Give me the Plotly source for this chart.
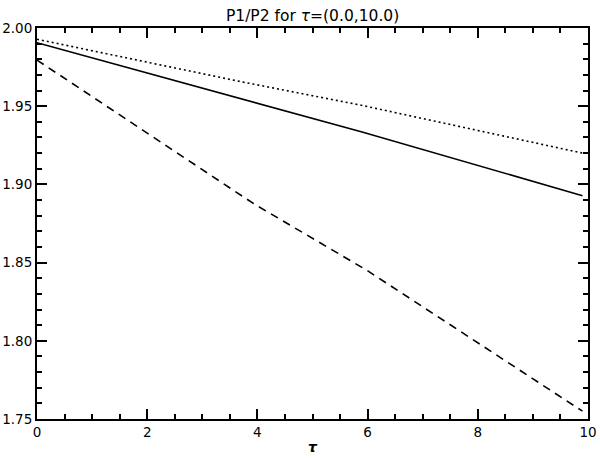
import plotly.graph_objects as go

tau = [0.0, 3.7, 5.9, 9.9]
solid_vals = [1.9906, 1.9550, 1.9335, 1.8928]
dotted_vals = [1.9928, 1.9657, 1.9505, 1.9200]
dashed_tau = [0.0, 3.94, 5.99, 9.9]
dashed_vals = [1.9795, 1.8875, 1.8450, 1.7550]

x_ticks = [0, 2, 4, 6, 8, 10]
y_ticks = [1.75, 1.80, 1.85, 1.90, 1.95, 2.00]
y_tick_labels = ["1.75", "1.80", "1.85", "1.90", "1.95", "2.00"]

fig = go.Figure()
fig.add_trace(go.Scatter(x=tau, y=solid_vals, mode="lines",
                         line=dict(color="black", width=1.6)))
fig.add_trace(go.Scatter(x=tau, y=dotted_vals, mode="lines",
                         line=dict(color="black", width=1.6, dash="2px,3px")))
fig.add_trace(go.Scatter(x=dashed_tau, y=dashed_vals, mode="lines",
                         line=dict(color="black", width=1.6, dash="8px,6px")))
# empty trace to anchor the mirrored (top/right) axes
fig.add_trace(go.Scatter(x=[], y=[], xaxis="x2", yaxis="y2", hoverinfo="skip"))

font = dict(family="DejaVu Sans, sans-serif", color="black")

common = dict(ticks="inside", ticklen=10, tickwidth=2, tickcolor="black",
              showline=True, linecolor="black", linewidth=2,
              showgrid=False, zeroline=False, automargin=False)

fig.update_layout(
    width=600, height=458,
    margin=dict(l=37, r=12, t=28, b=39),
    paper_bgcolor="white", plot_bgcolor="white",
    showlegend=False,
    title=dict(text="P1/P2 for <i>τ</i>=(0.0,10.0)", x=0.521, xanchor="center",
               y=0.965, yanchor="middle", font=dict(size=15.5, **font), automargin=False),
    xaxis=dict(range=[0, 10], tickvals=x_ticks, ticktext=[str(v) for v in x_ticks],
               tickfont=dict(size=13.5, **font),
               minor=dict(dtick=0.5, ticks="inside", ticklen=5, tickwidth=2, tickcolor="black", showgrid=False),
               title=dict(text="<b><i>τ</i></b>", font=dict(size=14, **font), standoff=3),
               **common),
    yaxis=dict(range=[1.75, 2.00], tickvals=y_ticks, ticktext=y_tick_labels,
               tickfont=dict(size=13.5, **font),
               minor=dict(dtick=0.01, ticks="inside", ticklen=5, tickwidth=2, tickcolor="black", showgrid=False),
               **common),
    xaxis2=dict(range=[0, 10], overlaying="x", side="top", anchor="y2",
                tickvals=x_ticks, showticklabels=False,
                minor=dict(dtick=0.5, ticks="inside", ticklen=5, tickwidth=2, tickcolor="black", showgrid=False),
                **common),
    yaxis2=dict(range=[1.75, 2.00], overlaying="y", side="right", anchor="x2",
                tickvals=y_ticks, showticklabels=False,
                minor=dict(dtick=0.01, ticks="inside", ticklen=5, tickwidth=2, tickcolor="black", showgrid=False),
                **common),
)

fig.write_html("out.html", config={"displayModeBar": False},
               post_script="document.body.style.margin='0';document.body.style.overflow='hidden';")
